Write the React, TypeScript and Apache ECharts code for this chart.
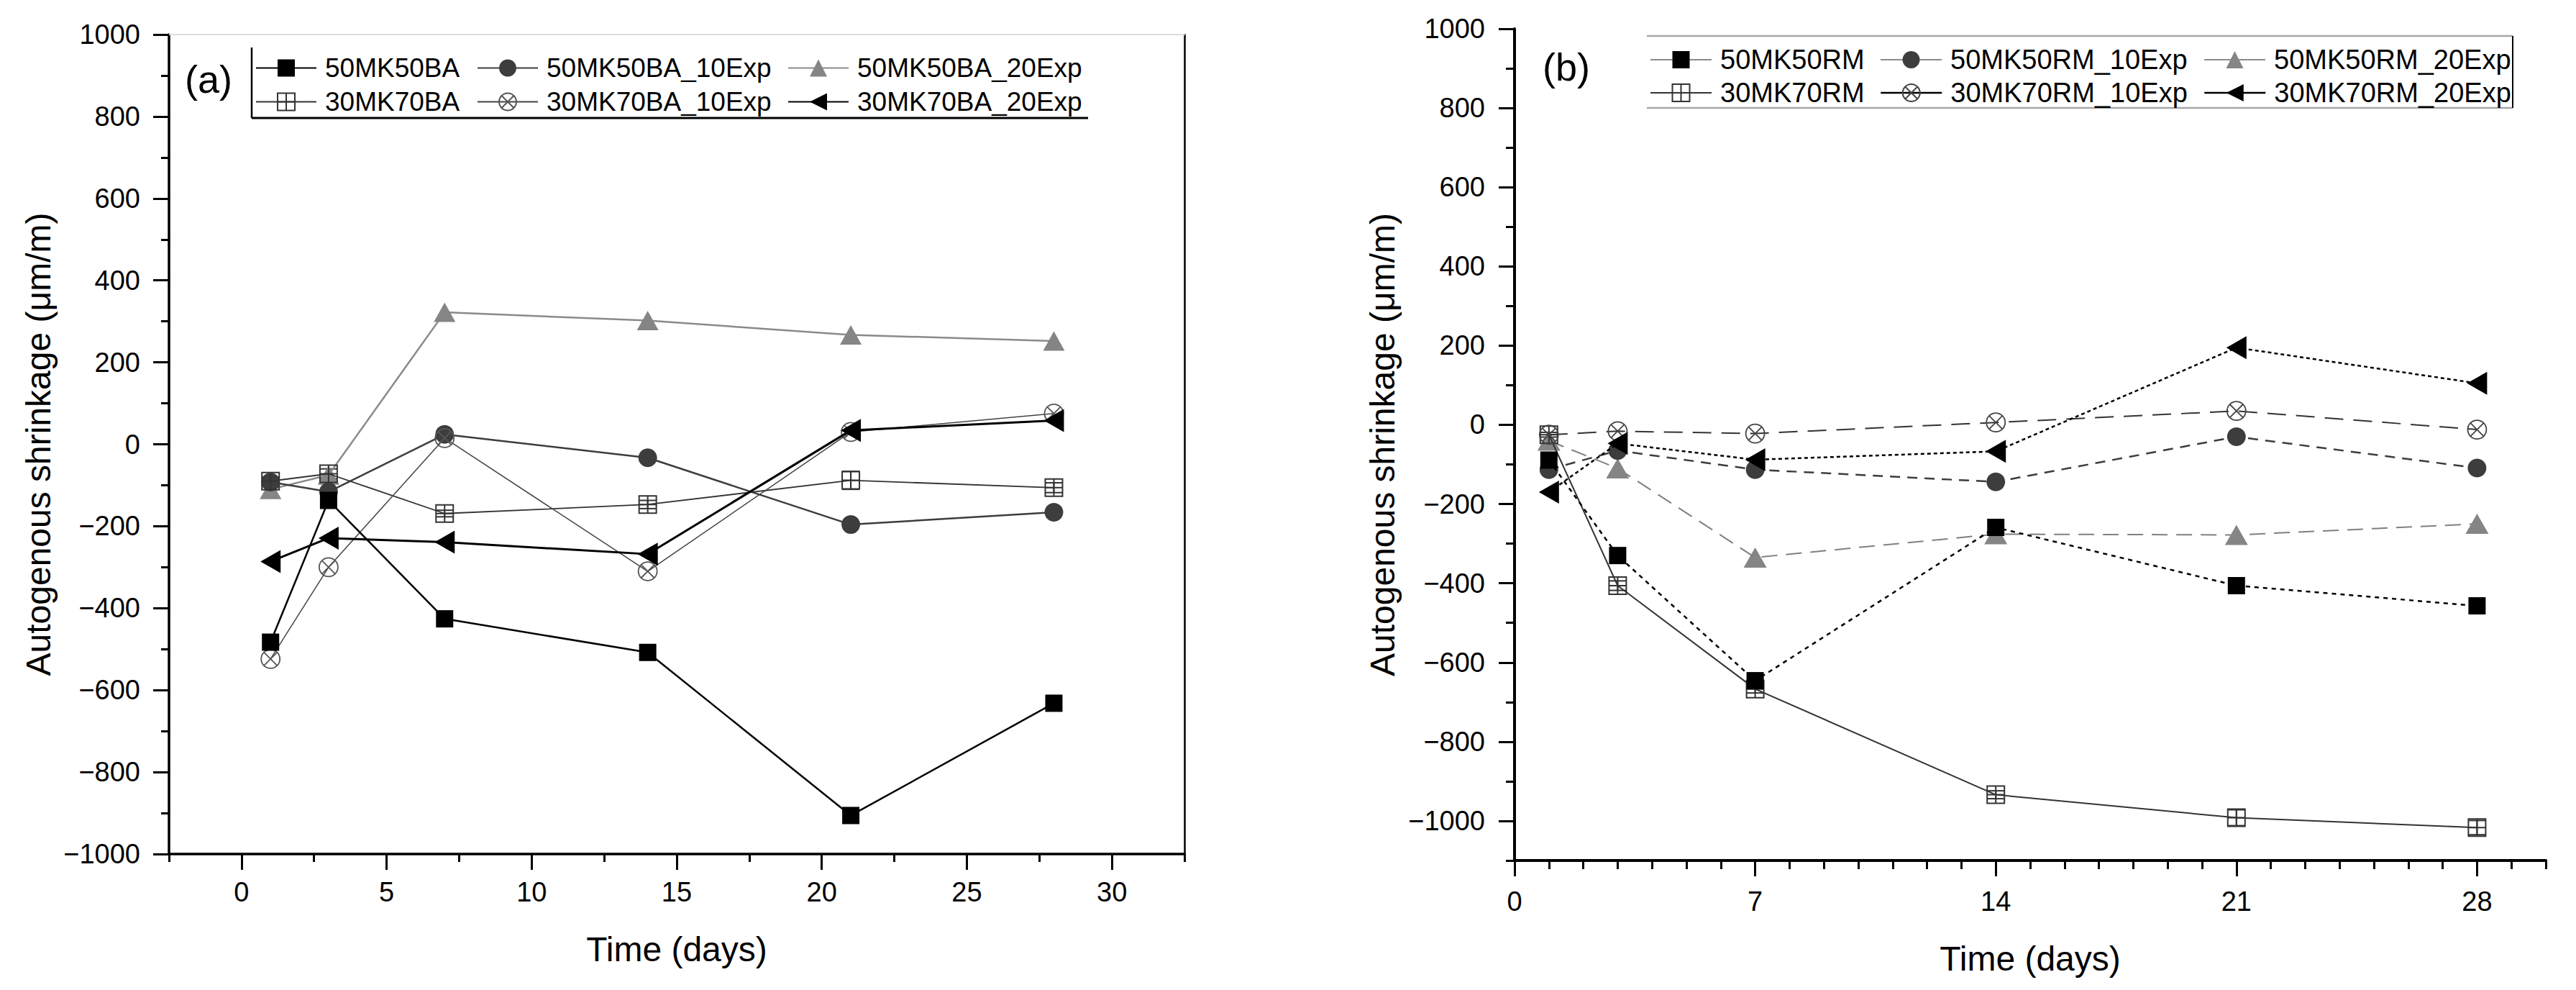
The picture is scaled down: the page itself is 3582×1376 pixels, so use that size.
import React, { useEffect, useRef } from 'react';
import * as echarts from 'echarts';

// ---------- data ----------
const DAYS = [1, 3, 7, 14, 21, 28];

// panel (a)
const A_50MK50BA = [-483, -137, -426, -508, -906, -632];
const A_50MK50BA_10EXP = [-92, -116, 24, -33, -196, -166];
const A_50MK50BA_20EXP = [-110, -75, 322, 302, 267, 252];
const A_30MK70BA = [-90, -72, -169, -147, -88, -106];
const A_30MK70BA_10EXP = [-524, -300, 15, -310, 30, 75];
const A_30MK70BA_20EXP = [-286, -229, -239, -268, 34, 58];
const A_30MK70BA_ERR = [10, 12, 8, 10, 22, 12];

// panel (b)
const B_50MK50RM = [-89, -330, -646, -259, -406, -457];
const B_50MK50RM_10EXP = [-113, -65, -113, -144, -30, -109];
const B_50MK50RM_20EXP = [-40, -110, -335, -276, -278, -250];
const B_30MK70RM = [-25, -406, -667, -934, -992, -1017];
const B_30MK70RM_10EXP = [-25, -16, -22, 6, 35, -12];
const B_30MK70RM_20EXP = [-170, -47, -88, -67, 195, 105];
const B_30MK70RM_ERR = [6, 12, 10, 10, 20, 18];

// ticks
const A_X_TICKS = [0, 5, 10, 15, 20, 25, 30];
const B_X_TICKS = [0, 7, 14, 21, 28];
const B_Y_TICKS = [-1000, -800, -600, -400, -200, 0, 200, 400, 600, 800, 1000];

const NAMES_A = ['50MK50BA', '50MK50BA_10Exp', '50MK50BA_20Exp', '30MK70BA', '30MK70BA_10Exp', '30MK70BA_20Exp'];
const NAMES_B = ['50MK50RM', '50MK50RM_10Exp', '50MK50RM_20Exp', '30MK70RM', '30MK70RM_10Exp', '30MK70RM_20Exp'];
const Y_TITLE = 'Autogenous shrinkage (μm/m)';
const X_TITLE = 'Time (days)';

// ---------- styles ----------
const FONT = '"Liberation Sans", Arial, Helvetica, sans-serif';
const SQ_CROSS = 'path://M0,0H10V10H0Z M5,0V10 M0,5H10';
const CIRCLE_X = 'path://M10,5A5,5,0,1,1,0,5A5,5,0,1,1,10,5Z M1.46,1.46L8.54,8.54 M8.54,1.46L1.46,8.54';
const LEFT_TRI = 'path://M0,5L10,0L10,10Z';
const CLEAR = 'rgba(255,255,255,0)';

const minus = (v: number) => (v < 0 ? '\u2212' + Math.abs(v) : String(v));
const pts = (ys: number[]) => DAYS.map((d, i) => [d, ys[i]]);

function line(name: string, ys: number[], xi: number, yi: number, o: any) {
  return {
    type: 'line',
    name,
    data: pts(ys),
    xAxisIndex: xi,
    yAxisIndex: yi,
    symbol: o.symbol,
    symbolSize: o.size,
    itemStyle: o.item,
    lineStyle: o.line,
    z: o.z || 3,
    emphasis: { disabled: true },
  };
}

function errSeries(ys: number[], errs: number[], xi: number, yi: number) {
  return {
    type: 'custom',
    name: 'err',
    xAxisIndex: xi,
    yAxisIndex: yi,
    silent: true,
    z: 4,
    data: DAYS.map((d, i) => [d, ys[i], errs[i]]),
    renderItem: (_p: any, api: any) => {
      const x = api.value(0);
      const y = api.value(1);
      const e = api.value(2);
      const t = api.coord([x, y + e]);
      const b = api.coord([x, y - e]);
      const w = 12;
      const st = { stroke: '#333', lineWidth: 2 };
      return {
        type: 'group',
        children: [
          { type: 'line', shape: { x1: t[0], y1: t[1], x2: b[0], y2: b[1] }, style: st },
          { type: 'line', shape: { x1: t[0] - w, y1: t[1], x2: t[0] + w, y2: t[1] }, style: st },
          { type: 'line', shape: { x1: b[0] - w, y1: b[1], x2: b[0] + w, y2: b[1] }, style: st },
        ],
      };
    },
  };
}

function legendItem(name: string, left: number, top: number, itemWidth: number, fontSize: number, lineOverride?: any) {
  return {
    show: true,
    data: [lineOverride ? { name, lineStyle: lineOverride } : name],
    left,
    top,
    orient: 'horizontal',
    itemWidth,
    itemHeight: 30,
    padding: 0,
    selectedMode: false,
    textStyle: { fontSize, fontFamily: FONT, color: '#000', lineHeight: 30, padding: [0, 0, 0, 7] },
  };
}

const tickStyle = { color: '#000', width: 3 };

function buildOption(): any {
  const xAxis = [
    // (a) minor bottom
    {
      type: 'value', gridIndex: 0, position: 'bottom', min: -2.5, max: 32.5, interval: 2.5,
      axisLine: { show: true, onZero: false, lineStyle: { color: '#000', width: 3.5 } },
      axisTick: { show: true, length: 11, lineStyle: tickStyle },
      axisLabel: { show: false }, splitLine: { show: false },
    },
    // (a) major bottom
    {
      type: 'value', gridIndex: 0, position: 'bottom', min: -2.5, max: 32.5,
      axisLine: { show: false, onZero: false },
      axisTick: { show: true, customValues: A_X_TICKS, length: 22, lineStyle: tickStyle },
      axisLabel: { show: true, customValues: A_X_TICKS, fontSize: 38, fontFamily: FONT, color: '#000', margin: 34, formatter: minus },
      splitLine: { show: false },
      name: X_TITLE, nameLocation: 'middle', nameGap: 108,
      nameTextStyle: { fontSize: 48, fontFamily: FONT, color: '#000' },
    },
    // (a) top frame
    {
      type: 'value', gridIndex: 0, position: 'top', min: -2.5, max: 32.5,
      axisLine: { show: true, onZero: false, lineStyle: { color: '#dcdcdc', width: 2 } },
      axisTick: { show: false }, axisLabel: { show: false }, splitLine: { show: false },
    },
    // (b) minor bottom
    {
      type: 'value', gridIndex: 1, position: 'bottom', min: 0, max: 30, interval: 1,
      axisLine: { show: true, onZero: false, lineStyle: { color: '#000', width: 4 } },
      axisTick: { show: true, length: 12, lineStyle: tickStyle },
      axisLabel: { show: false }, splitLine: { show: false },
    },
    // (b) major bottom
    {
      type: 'value', gridIndex: 1, position: 'bottom', min: 0, max: 30,
      axisLine: { show: false, onZero: false },
      axisTick: { show: true, customValues: B_X_TICKS, length: 22, lineStyle: tickStyle },
      axisLabel: { show: true, customValues: B_X_TICKS, fontSize: 38, fontFamily: FONT, color: '#000', margin: 38 },
      splitLine: { show: false },
      name: X_TITLE, nameLocation: 'middle', nameGap: 112,
      nameTextStyle: { fontSize: 48, fontFamily: FONT, color: '#000' },
    },
  ];

  const yAxis = [
    // (a) left
    {
      type: 'value', gridIndex: 0, position: 'left', min: -1000, max: 1000, interval: 200,
      axisLine: { show: true, onZero: false, lineStyle: { color: '#000', width: 3.5 } },
      axisTick: { show: true, length: 22, lineStyle: tickStyle },
      minorTick: { show: true, splitNumber: 2, length: 11, lineStyle: tickStyle },
      axisLabel: { show: true, fontSize: 38, fontFamily: FONT, color: '#000', margin: 40, formatter: minus },
      splitLine: { show: false }, minorSplitLine: { show: false },
      name: Y_TITLE, nameLocation: 'middle', nameGap: 158,
      nameTextStyle: { fontSize: 48, fontFamily: FONT, color: '#000' },
    },
    // (a) right frame
    {
      type: 'value', gridIndex: 0, position: 'right', min: -1000, max: 1000,
      axisLine: { show: true, onZero: false, lineStyle: { color: '#000', width: 2.5 } },
      axisTick: { show: false }, axisLabel: { show: false }, splitLine: { show: false },
    },
    // (b) minor left
    {
      type: 'value', gridIndex: 1, position: 'left', min: -1100, max: 1000, interval: 100,
      axisLine: { show: true, onZero: false, lineStyle: { color: '#000', width: 4 } },
      axisTick: { show: true, length: 12, lineStyle: tickStyle },
      axisLabel: { show: false }, splitLine: { show: false },
    },
    // (b) major left
    {
      type: 'value', gridIndex: 1, position: 'left', min: -1100, max: 1000,
      axisLine: { show: false, onZero: false },
      axisTick: { show: true, customValues: B_Y_TICKS, length: 22, lineStyle: tickStyle },
      axisLabel: { show: true, customValues: B_Y_TICKS, fontSize: 38, fontFamily: FONT, color: '#000', margin: 41, formatter: minus },
      splitLine: { show: false },
      name: Y_TITLE, nameLocation: 'middle', nameGap: 160,
      nameTextStyle: { fontSize: 48, fontFamily: FONT, color: '#000' },
    },
  ];

  const series = [
    // ----- panel (a)
    line(NAMES_A[0], A_50MK50BA, 0, 0, {
      symbol: 'rect', size: 24, item: { color: '#000' }, line: { color: '#000', width: 2.5 }, z: 6,
    }),
    line(NAMES_A[1], A_50MK50BA_10EXP, 0, 0, {
      symbol: 'circle', size: 26, item: { color: '#3d3d3d' }, line: { color: '#3d3d3d', width: 2.5 }, z: 5,
    }),
    line(NAMES_A[2], A_50MK50BA_20EXP, 0, 0, {
      symbol: 'triangle', size: [30, 27], item: { color: '#858585' }, line: { color: '#8a8a8a', width: 2.5 }, z: 4,
    }),
    line(NAMES_A[3], A_30MK70BA, 0, 0, {
      symbol: SQ_CROSS, size: 24, item: { color: CLEAR, borderColor: '#333', borderWidth: 2 }, line: { color: '#333', width: 1.8 }, z: 5,
    }),
    line(NAMES_A[4], A_30MK70BA_10EXP, 0, 0, {
      symbol: CIRCLE_X, size: 26, item: { color: CLEAR, borderColor: '#555', borderWidth: 1.8 }, line: { color: '#444', width: 1.5 }, z: 5,
    }),
    line(NAMES_A[5], A_30MK70BA_20EXP, 0, 0, {
      symbol: LEFT_TRI, size: [28, 32], item: { color: '#000' }, line: { color: '#000', width: 3 }, z: 6,
    }),
    errSeries(A_30MK70BA, A_30MK70BA_ERR, 0, 0),
    // ----- panel (b)
    line(NAMES_B[0], B_50MK50RM, 3, 2, {
      symbol: 'rect', size: 24, item: { color: '#000' }, line: { color: '#000', width: 2.5, type: [6, 6] }, z: 6,
    }),
    line(NAMES_B[1], B_50MK50RM_10EXP, 3, 2, {
      symbol: 'circle', size: 26, item: { color: '#3d3d3d' }, line: { color: '#3d3d3d', width: 2.5, type: [14, 10] }, z: 5,
    }),
    line(NAMES_B[2], B_50MK50RM_20EXP, 3, 2, {
      symbol: 'triangle', size: [32, 28], item: { color: '#858585' }, line: { color: '#808080', width: 2, type: [22, 12] }, z: 4,
    }),
    line(NAMES_B[3], B_30MK70RM, 3, 2, {
      symbol: SQ_CROSS, size: 24, item: { color: CLEAR, borderColor: '#333', borderWidth: 2 }, line: { color: '#333', width: 2 }, z: 5,
    }),
    line(NAMES_B[4], B_30MK70RM_10EXP, 3, 2, {
      symbol: CIRCLE_X, size: 26, item: { color: CLEAR, borderColor: '#444', borderWidth: 1.8 }, line: { color: '#333', width: 2, type: [26, 14] }, z: 5,
    }),
    line(NAMES_B[5], B_30MK70RM_20EXP, 3, 2, {
      symbol: LEFT_TRI, size: [28, 32], item: { color: '#000' }, line: { color: '#000', width: 2.5, type: [5, 4] }, z: 6,
    }),
    errSeries(B_30MK70RM, B_30MK70RM_ERR, 3, 2),
  ];

  const solidGrey = { type: 'solid', color: '#8c8c8c', width: 2 };
  const solidBlack = { type: 'solid', color: '#000', width: 2.5 };
  const legend = [
    // panel (a)
    legendItem(NAMES_A[0], 355, 76, 84, 37),
    legendItem(NAMES_A[1], 663, 76, 84, 37),
    legendItem(NAMES_A[2], 1095, 76, 84, 37),
    legendItem(NAMES_A[3], 355, 123, 84, 37),
    legendItem(NAMES_A[4], 663, 123, 84, 37),
    legendItem(NAMES_A[5], 1095, 123, 84, 37),
    // panel (b)
    legendItem(NAMES_B[0], 2294, 64, 85, 38, solidGrey),
    legendItem(NAMES_B[1], 2614, 64, 85, 38, solidGrey),
    legendItem(NAMES_B[2], 3064, 64, 85, 38, solidGrey),
    legendItem(NAMES_B[3], 2294, 110, 85, 38, { type: 'solid', color: '#333', width: 2 }),
    legendItem(NAMES_B[4], 2614, 110, 85, 38, solidBlack),
    legendItem(NAMES_B[5], 3064, 110, 85, 38, solidBlack),
  ];

  const graphic = [
    // legend frame (a)
    { type: 'line', shape: { x1: 350, y1: 66, x2: 350, y2: 164 }, style: { stroke: '#000', lineWidth: 2.5 } },
    { type: 'line', shape: { x1: 350, y1: 164, x2: 1513, y2: 164 }, style: { stroke: '#000', lineWidth: 3 } },
    // legend frame (b)
    { type: 'line', shape: { x1: 2290, y1: 50, x2: 3494, y2: 50 }, style: { stroke: '#a8a8a8', lineWidth: 2.5 } },
    { type: 'line', shape: { x1: 2290, y1: 150, x2: 3494, y2: 150 }, style: { stroke: '#a8a8a8', lineWidth: 2.5 } },
    { type: 'line', shape: { x1: 3494, y1: 50, x2: 3494, y2: 150 }, style: { stroke: '#000', lineWidth: 2 } },
    // panel labels
    { type: 'text', x: 290, y: 110, style: { text: '(a)', fontSize: 54, fontFamily: FONT, fill: '#000', align: 'center', verticalAlign: 'middle' } },
    { type: 'text', x: 2178, y: 93, style: { text: '(b)', fontSize: 54, fontFamily: FONT, fill: '#000', align: 'center', verticalAlign: 'middle' } },
  ];

  return {
    animation: false,
    backgroundColor: '#ffffff',
    textStyle: { fontFamily: FONT },
    grid: [
      { left: 235, top: 48, width: 1412, height: 1139, outerBoundsMode: 'none', containLabel: false },
      { left: 2106, top: 40, width: 1434, height: 1156, outerBoundsMode: 'none', containLabel: false },
    ],
    xAxis,
    yAxis,
    legend,
    series,
    graphic,
    tooltip: { show: false },
  };
}

export default function App() {
  const ref = useRef<HTMLDivElement>(null);
  useEffect(() => {
    if (!ref.current) return;
    const chart = echarts.init(ref.current, undefined, { renderer: 'svg' });
    chart.setOption(buildOption());
    return () => {
      chart.dispose();
    };
  }, []);
  return (
    <div
      ref={ref}
      style={{ position: 'absolute', left: 0, top: 0, width: 3582, height: 1376, background: '#fff' }}
    />
  );
}
